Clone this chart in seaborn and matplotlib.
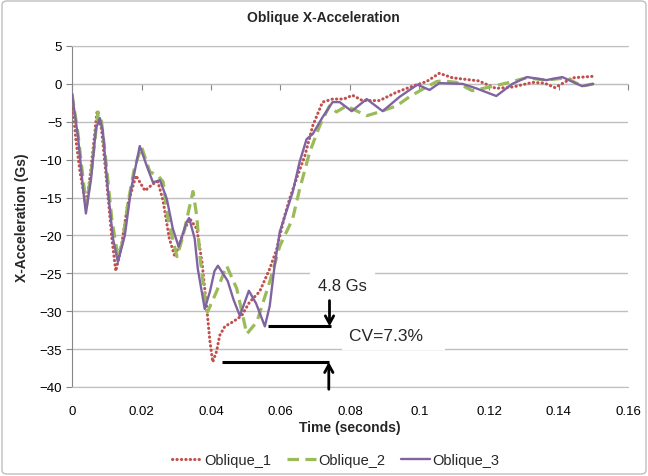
import numpy as np
import pandas as pd
import matplotlib
matplotlib.use("Agg")
import matplotlib.pyplot as plt
from matplotlib.patches import FancyBboxPatch
from matplotlib.ticker import FuncFormatter
import seaborn as sns

# ---------------- data ----------------
t_oblique_1 = [0, 0.0011, 0.0023, 0.0041, 0.0055, 0.0072, 0.0085, 0.010, 0.0115, 0.0126,
               0.014, 0.016, 0.0184, 0.021, 0.0233, 0.0247, 0.0262, 0.028, 0.0296, 0.0325,
               0.0339, 0.0359, 0.0374, 0.0388, 0.0397, 0.0405, 0.0416, 0.0425, 0.044, 0.0463,
               0.0488, 0.0511, 0.054, 0.0569, 0.0589, 0.0612, 0.0626, 0.065, 0.067, 0.0693,
               0.0721, 0.075, 0.0782, 0.0807, 0.0836, 0.0885, 0.0934, 0.098, 0.102, 0.1057,
               0.1095, 0.117, 0.122, 0.127, 0.1325, 0.136, 0.139, 0.144, 0.15]
a_oblique_1 = [-1.5, -7.3, -11.6, -16.3, -11, -3.7, -6, -13, -20.5, -24.7,
               -22, -16, -12.1, -14.1, -13.2, -12.9, -15.4, -20.4, -22.8, -19.1,
               -17.8, -19.1, -23.5, -29.7, -34, -36.7, -35.3, -33.2, -32, -31.4,
               -30.6, -28.8, -27.4, -24.4, -21.8, -17.4, -15.2, -12, -9.5, -5.5,
               -2.4, -2.0, -2.0, -1.5, -2.2, -2.2, -1.1, -0.3, 0.3, 1.4,
               0.8, 0.4, -0.6, -0.4, 0.2, 0.1, -0.5, 0.8, 1.0]

t_oblique_2 = [0, 0.0017, 0.0033, 0.0042, 0.0057, 0.0075, 0.0085, 0.0095, 0.0115, 0.0132,
               0.0145, 0.016, 0.018, 0.02, 0.0224, 0.0247, 0.0262, 0.0276, 0.0302, 0.032,
               0.0348, 0.0359, 0.0368, 0.0382, 0.039, 0.0416, 0.0445, 0.0474, 0.0503, 0.0532,
               0.0569, 0.0598, 0.0635, 0.0655, 0.0684, 0.0713, 0.0741, 0.0761, 0.079, 0.0807,
               0.0848, 0.0885, 0.0934, 0.0971, 0.1009, 0.1049, 0.1066, 0.1106, 0.1152, 0.1193,
               0.125, 0.1307, 0.1365, 0.1422, 0.1468, 0.15]
a_oblique_2 = [-1.3, -6.5, -13, -16, -11, -3.7, -5, -9, -18, -22.7,
               -21, -16, -11, -8.3, -11.6, -12.1, -12.9, -17.8, -22.8, -20,
               -14.2, -17.4, -22.7, -28, -30.1, -27.4, -24, -27, -33, -31.4,
               -26.1, -21.4, -17.8, -13.9, -9.0, -5.5, -2.9, -3.7, -2.9, -3.3,
               -4.2, -3.7, -2.9, -1.7, -0.7, 0.3, 0.4, 0.2, -0.9, -0.5,
               0.1, 0.8, 0.5, 0.8, -0.3, 0]

t_oblique_3 = [0, 0.0017, 0.0032, 0.004, 0.0055, 0.0069, 0.008, 0.0089, 0.0103, 0.0118,
               0.0132, 0.0152, 0.017, 0.0195, 0.0215, 0.0233, 0.0253, 0.0273, 0.029, 0.0307,
               0.033, 0.0337, 0.0353, 0.0362, 0.0382, 0.0397, 0.041, 0.042, 0.0448, 0.0465,
               0.0483, 0.0509, 0.053, 0.0555, 0.0569, 0.0583, 0.0598, 0.0635, 0.0655, 0.0675,
               0.0693, 0.0721, 0.075, 0.077, 0.0805, 0.0848, 0.0894, 0.0943, 0.0994, 0.1029,
               0.1057, 0.1124, 0.1164, 0.1221, 0.1267, 0.131, 0.1365, 0.1411, 0.1468, 0.15]
a_oblique_3 = [-1.3, -6.9, -13.9, -17.1, -12.5, -5.9, -4.5, -6.3, -13.9, -20.4,
               -23.5, -20, -13.9, -8.2, -10.8, -13, -12.7, -15.2, -19.1, -21.5,
               -18.2, -17.7, -20.4, -24.4, -29.7, -27.4, -24.7, -24, -26, -28.5,
               -30.6, -27.3, -29, -32, -29.3, -24, -19.5, -14.3, -10.3, -7.3,
               -6.6, -4.4, -2.4, -2.4, -3.6, -2, -3.6, -1.7, -0.1, -0.8,
               0.1, 0, -0.6, -1.6, 0, 0.9, 0.5, 0.9, -0.3, 0]

series_names = ["Oblique_1", "Oblique_2", "Oblique_3"]
series_times = [t_oblique_1, t_oblique_2, t_oblique_3]
series_values = [a_oblique_1, a_oblique_2, a_oblique_3]

x_ticks = [0, 0.02, 0.04, 0.06, 0.08, 0.1, 0.12, 0.14, 0.16]
y_ticks = [-40, -35, -30, -25, -20, -15, -10, -5, 0, 5]

title_text = "Oblique X-Acceleration"
x_label = "Time (seconds)"
y_label = "X-Acceleration (Gs)"
diff_label = "4.8 Gs"
cv_label = "CV=7.3%"

# ---------------- styling ----------------
colors = {"Oblique_1": "#C0504D", "Oblique_2": "#9BBB59", "Oblique_3": "#8064A2"}
styles = {"Oblique_1": (0, (0.1, 1.35)), "Oblique_2": (0, (3.6, 2.0)), "Oblique_3": "-"}
widths = {"Oblique_1": 2.2, "Oblique_2": 2.3, "Oblique_3": 1.7}
grid_col = "#BFBFBF"
axis_col = "#868686"

sns.set_style("white")
plt.rcParams["font.family"] = ["Liberation Sans", "DejaVu Sans"]

W, H = 648, 477
fig = plt.figure(figsize=(W / 100, H / 100), dpi=100)
ax_l, ax_r, ax_t, ax_b = 72, 628, 47, 388
ax = fig.add_axes([ax_l / W, 1 - ax_b / H, (ax_r - ax_l) / W, (ax_b - ax_t) / H])

df = pd.concat([pd.DataFrame({"Time": t, "Accel": a, "Series": n})
                for t, a, n in zip(series_times, series_values, series_names)],
               ignore_index=True)

for name in series_names:
    sub = df[df["Series"] == name]
    sns.lineplot(data=sub, x="Time", y="Accel", ax=ax, color=colors[name],
                 linestyle=styles[name], lw=widths[name], label=name,
                 estimator=None, sort=False, zorder=4)
for line in ax.get_lines():
    line.set_dash_capstyle("round" if line.get_label() == "Oblique_1" else "butt")
    line.set_solid_joinstyle("round")
    line.set_dash_joinstyle("round")

ax.set_xlim(0, 0.16)
ax.set_ylim(-40, 5)
ax.set_xticks(x_ticks)
ax.set_yticks(y_ticks)
ax.xaxis.set_major_formatter(FuncFormatter(lambda v, p: f"{v:g}"))
ax.yaxis.grid(True, color=grid_col, lw=1)
ax.xaxis.grid(False)
ax.set_axisbelow(True)
ax.spines["right"].set_visible(False)
ax.spines["top"].set_color(grid_col)
ax.spines["bottom"].set_color(grid_col)
ax.spines["left"].set_color(axis_col)
ax.tick_params(axis="y", left=True, direction="out", length=4, color=axis_col,
               labelsize=9.5, pad=3, labelcolor="#000000")
ax.tick_params(axis="x", bottom=False, length=0, labelsize=9.5, pad=13, labelcolor="#000000")

# horizontal axis line with tick marks crossing at y = 0
sec = ax.secondary_xaxis((0 - (-40)) / 45)
sec.set_xticks(x_ticks)
sec.tick_params(direction="in", length=4, color=axis_col, labeltop=False, labelbottom=False)
for s in sec.spines.values():
    s.set_color(grid_col)

ax.set_xlabel(x_label, fontweight="bold", fontsize=10, va="center")
ax.xaxis.set_label_coords(0.5, -(428 - ax_b) / (ax_b - ax_t))
ax.set_ylabel(y_label, fontweight="bold", fontsize=10, va="center")
ax.yaxis.set_label_coords(-(ax_l - 22) / (ax_r - ax_l), 0.5)

fig.text(323 / W, 1 - 18 / H, title_text, ha="center", va="center",
         fontweight="bold", fontsize=10)

# ---------------- annotations ----------------
i1 = int(np.argmin(a_oblique_1))
i3 = int(np.argmin(a_oblique_3))
low_t, low_y = t_oblique_1[i1], a_oblique_1[i1]
high_t, high_y = t_oblique_3[i3], a_oblique_3[i3]
bracket_x = 0.0741
ax.plot([low_t + 0.0026, bracket_x], [low_y, low_y], color="black", lw=2.2,
        solid_capstyle="butt", zorder=5)
ax.plot([high_t + 0.0008, bracket_x + 0.0005], [high_y, high_y], color="black", lw=2.2,
        solid_capstyle="butt", zorder=5)
arrow = dict(arrowstyle="->,head_length=0.55,head_width=0.3", lw=2.0, color="black",
             shrinkA=0, shrinkB=0)
ax.annotate("", xy=(bracket_x, high_y), xytext=(bracket_x, high_y + 3.4),
            arrowprops=arrow, zorder=5)
ax.annotate("", xy=(bracket_x - 0.0002, low_y), xytext=(bracket_x - 0.0002, -40.3),
            arrowprops=arrow, zorder=5, annotation_clip=False)
ax.text(0.0779, -26.6, diff_label, ha="center", va="center", fontsize=12,
        bbox=dict(fc="white", ec="none", pad=6), zorder=3)
ax.text(0.0797, -33.2, cv_label + "   ", ha="left", va="center", fontsize=12.5,
        bbox=dict(fc="white", ec="none", pad=5), zorder=3)

# ---------------- legend ----------------
handles, labels = ax.get_legend_handles_labels()
ax.get_legend().remove()
fig.legend(handles, labels, loc="center", bbox_to_anchor=(336 / W, 1 - 461 / H),
           ncol=3, frameon=False, fontsize=10.5, handlelength=2.0,
           handletextpad=0.15, columnspacing=1.1)

fig.patches.append(FancyBboxPatch((2 / W, 2 / H), 1 - 4 / W, 1 - 4 / H,
                                  boxstyle="round,pad=0,rounding_size=0.008",
                                  transform=fig.transFigure, fill=False,
                                  ec="#BFBFBF", lw=1))

fig.savefig("out.png", dpi=100)
